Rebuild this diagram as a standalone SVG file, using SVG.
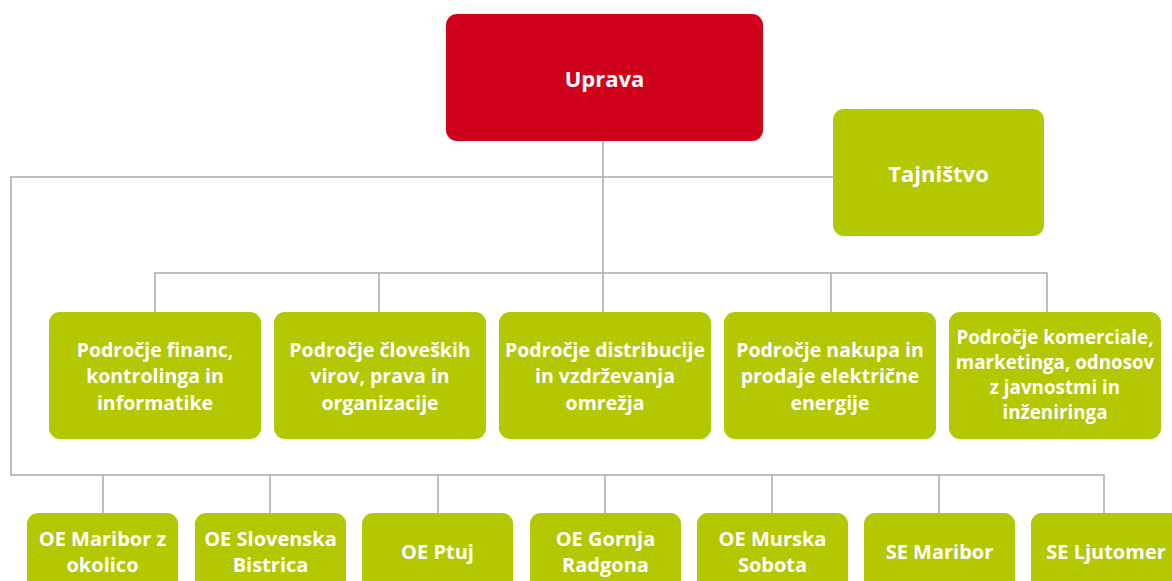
<svg xmlns="http://www.w3.org/2000/svg" width="1172" height="581" viewBox="0 0 1172 581">
<style>
.red{fill:#D0021B}
.grn{fill:#B3C800}
.t{fill:#FFFFFF;font-family:"Open Sans","Liberation Sans",sans-serif;font-weight:bold;text-anchor:middle}
.big{font-size:22px}
.mid{font-size:19.5px}
.mid5{font-size:18.8px}
.small{font-size:20px}
.ln{stroke:#ABABAB;stroke-width:1.5;fill:none}
</style>
<rect width="1172" height="581" fill="#FFFFFF"/>
<g id="connectors">
<path class="ln" d="M603 141V273"/>
<path class="ln" d="M833 177H11V475H1104V513"/>
<path class="ln" d="M155 313V273H1047V313"/>
<path class="ln" d="M379 273V313M603 273V313M831 273V313"/>
<path class="ln" d="M103 475V513M270 475V513M438 475V513M605 475V513M772 475V513M939 475V513"/>
</g>
<g id="uprava"><rect class="red" x="446" y="14" width="317" height="127" rx="11"/><text class="t big" x="604.5" y="87">Uprava</text></g>
<g id="tajnistvo"><rect class="grn" x="833" y="109" width="211" height="127" rx="11"/><text class="t big" x="938.5" y="182">Tajništvo</text></g>
<g id="p1"><rect class="grn" x="49" y="312" width="212" height="127" rx="11"/><text class="t mid" x="155" y="357">Področje financ,<tspan x="155" y="383">kontrolinga in</tspan><tspan x="155" y="410">informatike</tspan></text></g>
<g id="p2"><rect class="grn" x="274" y="312" width="212" height="127" rx="11"/><text class="t mid" x="380" y="357">Področje človeških<tspan x="380" y="383">virov, prava in</tspan><tspan x="380" y="410">organizacije</tspan></text></g>
<g id="p3"><rect class="grn" x="499" y="312" width="212" height="127" rx="11"/><text class="t mid" x="605" y="357">Področje distribucije<tspan x="605" y="383">in vzdrževanja</tspan><tspan x="605" y="410">omrežja</tspan></text></g>
<g id="p4"><rect class="grn" x="724" y="312" width="212" height="127" rx="11"/><text class="t mid" x="830" y="357">Področje nakupa in<tspan x="830" y="383">prodaje električne</tspan><tspan x="830" y="410">energije</tspan></text></g>
<g id="p5"><rect class="grn" x="949" y="312" width="212" height="127" rx="11"/><text class="t mid5" x="1055" y="344">Področje komerciale,<tspan x="1055" y="369">marketinga, odnosov</tspan><tspan x="1055" y="394">z javnostmi in</tspan><tspan x="1055" y="419">inženiringa</tspan></text></g>
<g id="oe1"><rect class="grn" x="27" y="513" width="151" height="90" rx="11"/><text class="t small" x="102.5" y="546">OE Maribor z<tspan x="102.5" y="572">okolico</tspan></text></g>
<g id="oe2"><rect class="grn" x="195" y="513" width="151" height="90" rx="11"/><text class="t small" x="270.5" y="546">OE Slovenska<tspan x="270.5" y="572">Bistrica</tspan></text></g>
<g id="oe3"><rect class="grn" x="362" y="513" width="151" height="90" rx="11"/><text class="t small" x="437.5" y="559">OE Ptuj</text></g>
<g id="oe4"><rect class="grn" x="530" y="513" width="151" height="90" rx="11"/><text class="t small" x="605.5" y="546">OE Gornja<tspan x="605.5" y="572">Radgona</tspan></text></g>
<g id="oe5"><rect class="grn" x="697" y="513" width="151" height="90" rx="11"/><text class="t small" x="772.5" y="546">OE Murska<tspan x="772.5" y="572">Sobota</tspan></text></g>
<g id="se1"><rect class="grn" x="864" y="513" width="151" height="90" rx="11"/><text class="t small" x="939.5" y="559">SE Maribor</text></g>
<g id="se2"><rect class="grn" x="1031" y="513" width="151" height="90" rx="11"/><text class="t small" x="1106" y="559">SE Ljutomer</text></g>
</svg>
